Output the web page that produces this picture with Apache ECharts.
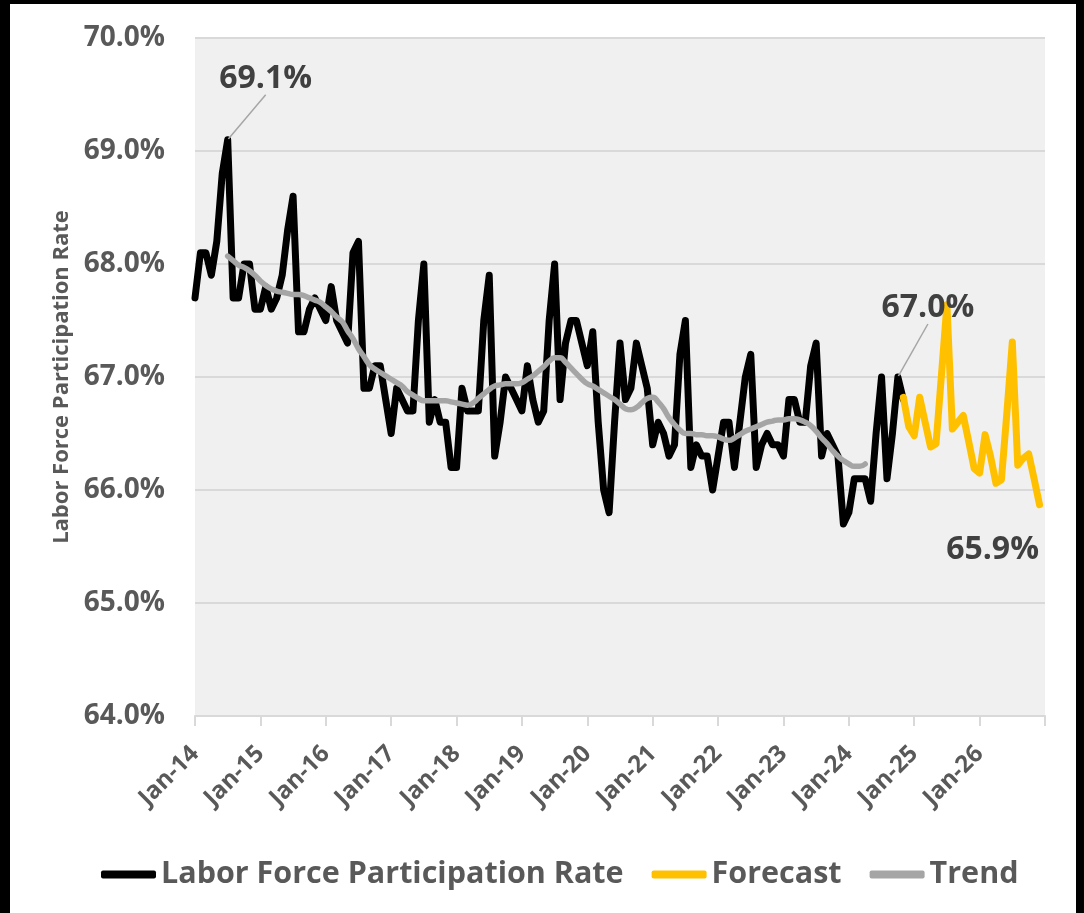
<!DOCTYPE html>
<html>
<head>
<meta charset="utf-8">
<script src="https://cdn.jsdelivr.net/npm/echarts@6/dist/echarts.min.js"></script>
<style>
  html, body { margin: 0; padding: 0; background: #000; }
  #chart { position: absolute; left: 10px; top: 4px; width: 1066px; height: 909px; background: #fff; }
</style>
</head>
<body>
<div id="chart"></div>
<script>
// month labels Jan-14 ... Jan-27 (the axis runs one month past the last forecast point)
const monthNames = ["Jan", "Feb", "Mar", "Apr", "May", "Jun", "Jul", "Aug", "Sep", "Oct", "Nov", "Dec"]
const yearNames = ["14", "15", "16", "17", "18", "19", "20", "21", "22", "23", "24", "25", "26", "27"]
const categories = []
yearNames.forEach(y => monthNames.forEach(m => categories.push(m + "-" + y)))
categories.length = 157

// actual rate, Jan-14 .. Nov-24
const actual = [
  67.7, 68.1, 68.1, 67.9, 68.2, 68.8, 69.1, 67.7, 67.7, 68.0, 68.0, 67.6,
  67.6, 67.8, 67.6, 67.7, 67.9, 68.3, 68.6, 67.4, 67.4, 67.6, 67.7, 67.6,
  67.5, 67.8, 67.5, 67.4, 67.3, 68.1, 68.2, 66.9, 66.9, 67.1, 67.1, 66.8,
  66.5, 66.9, 66.8, 66.7, 66.7, 67.5, 68.0, 66.6, 66.8, 66.6, 66.6, 66.2,
  66.2, 66.9, 66.7, 66.7, 66.7, 67.5, 67.9, 66.3, 66.6, 67.0, 66.9, 66.8,
  66.7, 67.1, 66.8, 66.6, 66.7, 67.5, 68.0, 66.8, 67.3, 67.5, 67.5, 67.3,
  67.1, 67.4, 66.6, 66.0, 65.8, 66.6, 67.3, 66.8, 66.9, 67.3, 67.1, 66.9,
  66.4, 66.6, 66.5, 66.3, 66.4, 67.2, 67.5, 66.2, 66.4, 66.3, 66.3, 66.0,
  66.3, 66.6, 66.6, 66.2, 66.6, 67.0, 67.2, 66.2, 66.4, 66.5, 66.4, 66.4,
  66.3, 66.8, 66.8, 66.6, 66.6, 67.1, 67.3, 66.3, 66.5, 66.4, 66.3, 65.7,
  65.8, 66.1, 66.1, 66.1, 65.9, 66.5, 67.0, 66.1, 66.5, 67.0, 66.8
]
const actualStart = 0

// forecast, Nov-24 .. Dec-26
const forecast = [
  66.82, 66.56, 66.48, 66.82, 66.60, 66.38, 66.41, 67.02, 67.64, 66.54, 66.60, 66.66, 66.43,
  66.19, 66.15, 66.49, 66.30, 66.06, 66.09, 66.68, 67.31, 66.22, 66.28, 66.32, 66.10, 65.87
]
const forecastStart = 130

// trend, Jul-14 .. Apr-24
const trend = [
  68.07, 68.03, 67.99, 67.97, 67.94, 67.90, 67.85, 67.81, 67.78, 67.76, 67.75, 67.74,
  67.73, 67.73, 67.72, 67.70, 67.68, 67.66, 67.62, 67.58, 67.53, 67.49, 67.41, 67.34,
  67.25, 67.18, 67.11, 67.07, 67.04, 67.01, 66.98, 66.95, 66.92, 66.87, 66.84, 66.81,
  66.79, 66.79, 66.79, 66.79, 66.79, 66.78, 66.77, 66.76, 66.75, 66.77, 66.81, 66.85,
  66.89, 66.92, 66.93, 66.94, 66.94, 66.94, 66.95, 66.98, 67.01, 67.05, 67.09, 67.14,
  67.17, 67.17, 67.13, 67.08, 67.03, 66.98, 66.94, 66.92, 66.89, 66.86, 66.83, 66.80,
  66.76, 66.72, 66.71, 66.73, 66.77, 66.81, 66.82, 66.78, 66.72, 66.64, 66.58, 66.53,
  66.50, 66.50, 66.49, 66.49, 66.48, 66.48, 66.47, 66.45, 66.44, 66.46, 66.49, 66.52,
  66.54, 66.56, 66.58, 66.60, 66.61, 66.62, 66.62, 66.63, 66.63, 66.62, 66.60, 66.57,
  66.52, 66.46, 66.41, 66.35, 66.30, 66.26, 66.23, 66.21, 66.21, 66.23
]
const trendStart = 6

// y axis ticks
const yMin = 64
const yMax = 70
const yStep = 1

// which points carry a value label, with the label shift [dx, dy]
const labelledActual = { 6: [38, -61], 129: [30, -69] }
const labelledForecast = { 155: [-47, 45] }

const FONT = "'Open Sans', 'DejaVu Sans', sans-serif"
const GREY_TEXT = "#595959"

function toPairs(values, start, labelled) {
  return values.map((v, i) => {
    const idx = start + i
    if (labelled[idx]) {
      return { value: [categories[idx], v], symbol: "circle", symbolSize: 2, label: { show: true } }
    }
    return [categories[idx], v]
  })
}

function shiftLabel(labelled, start) {
  return function (params) {
    const s = labelled[start + params.dataIndex]
    return s ? { dx: s[0], dy: s[1] } : {}
  }
}

const valueLabel = {
  show: false,
  position: "inside",
  fontFamily: FONT,
  fontWeight: "bold",
  fontSize: 32,
  color: "#404040",
  formatter: p => p.value[1].toFixed(1) + "%",
}

const chart = echarts.init(document.getElementById("chart"))
chart.setOption({
  animation: false,
  textStyle: { fontFamily: FONT },
  grid: {
    left: 185,
    right: 31,
    top: 34,
    bottom: 197,
    show: true,
    backgroundColor: "#f0f0f0",
    borderWidth: 0,
  },
  legend: {
    left: 86,
    top: 850,
    icon: "roundRect",
    itemWidth: 55,
    itemHeight: 8,
    itemGap: 28,
    textStyle: { fontFamily: FONT, fontWeight: "bold", fontSize: 30.5, color: GREY_TEXT },
    data: ["Labor Force Participation Rate", "Forecast", "Trend"],
  },
  xAxis: {
    type: "category",
    data: categories,
    boundaryGap: false,
    axisLine: { lineStyle: { color: "#d9d9d9", width: 2 } },
    axisTick: { show: true, interval: 11, length: 10, lineStyle: { color: "#d9d9d9", width: 2 } },
    axisLabel: {
      interval: 11,
      rotate: 45,
      margin: 34,
      fontFamily: FONT,
      fontWeight: "bold",
      fontSize: 24,
      color: GREY_TEXT,
      formatter: (v, i) => (i === 156 ? "" : v),
    },
    splitLine: { show: false },
  },
  yAxis: {
    type: "value",
    min: yMin,
    max: yMax,
    interval: yStep,
    name: "Labor Force Participation Rate",
    nameLocation: "middle",
    nameGap: 121,
    nameTextStyle: { fontFamily: FONT, fontWeight: "bold", fontSize: 22, color: GREY_TEXT },
    axisLine: { show: false },
    axisTick: { show: false },
    axisLabel: {
      margin: 30,
      fontFamily: FONT,
      fontWeight: "bold",
      fontSize: 28,
      color: GREY_TEXT,
      formatter: v => v.toFixed(1) + "%",
    },
    splitLine: { lineStyle: { color: "#d9d9d9", width: 2 } },
  },
  series: [
    {
      name: "Labor Force Participation Rate",
      type: "line",
      data: toPairs(actual, actualStart, labelledActual),
      symbol: "none",
      showSymbol: true,
      showAllSymbol: true,
      itemStyle: { color: "#000000" },
      lineStyle: { color: "#000000", width: 7, cap: "round", join: "round" },
      label: valueLabel,
      labelLayout: shiftLabel(labelledActual, actualStart),
      labelLine: { show: true, lineStyle: { color: "#a6a6a6", width: 1.5 } },
      emphasis: { disabled: true },
    },
    {
      name: "Forecast",
      type: "line",
      data: toPairs(forecast, forecastStart, labelledForecast),
      symbol: "none",
      showSymbol: true,
      showAllSymbol: true,
      itemStyle: { color: "#ffc000" },
      lineStyle: { color: "#ffc000", width: 7, cap: "round", join: "round" },
      label: valueLabel,
      labelLayout: shiftLabel(labelledForecast, forecastStart),
      labelLine: { show: false },
      emphasis: { disabled: true },
    },
    {
      name: "Trend",
      type: "line",
      data: toPairs(trend, trendStart, {}),
      symbol: "none",
      smooth: true,
      itemStyle: { color: "#a5a5a5" },
      lineStyle: { color: "#a5a5a5", width: 5.5, cap: "round", join: "round" },
      emphasis: { disabled: true },
    },
  ],
})
window.addEventListener("resize", () => chart.resize())
</script>
</body>
</html>
